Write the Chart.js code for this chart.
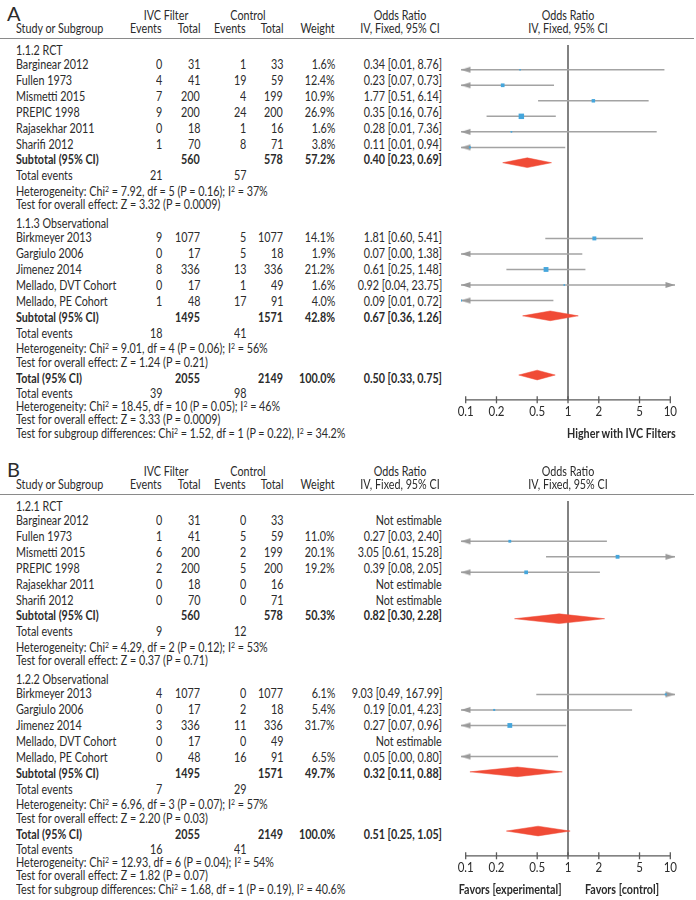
<!DOCTYPE html>
<html><head><meta charset="utf-8">
<script src="https://cdn.jsdelivr.net/npm/chart.js@4.4.0/dist/chart.umd.min.js"></script>
<style>
html,body{margin:0;padding:0;background:#fff;}
#page{position:relative;width:696px;height:900px;overflow:hidden;font-family:Lato,"Liberation Sans",sans-serif;font-size:12.5px;color:#2b2b2b;}
.t{position:absolute;white-space:nowrap;line-height:14px;height:14px;}
.b{font-weight:bold;}
.big{font-size:20px;line-height:20px;height:20px;}
sup{font-size:8px;vertical-align:0;position:relative;top:-4px;line-height:0;}
.hline{position:absolute;height:0;border-top:1.5px solid #8a8a8a;}
canvas{position:absolute;}
</style></head>
<body><div id="page"></div>
<script>
// ---------------- DATA ----------------
const panelLabels = ['A', 'B'];
const groupNames = [['1.1.2 RCT', '1.1.3 Observational'], ['1.2.1 RCT', '1.2.2 Observational']];
const studies = ['Barginear 2012', 'Fullen 1973', 'Mismetti 2015', 'PREPIC 1998', 'Rajasekhar 2011', 'Sharifi 2012',
  'Birkmeyer 2013', 'Gargiulo 2006', 'Jimenez 2014', 'Mellado, DVT Cohort', 'Mellado, PE Cohort'];
const studyGroup = [0, 0, 0, 0, 0, 0, 1, 1, 1, 1, 1];
const totalsFilter = [31, 41, 200, 200, 18, 70, 1077, 17, 336, 17, 48];
const totalsCtrl = [33, 59, 199, 200, 16, 71, 1077, 18, 336, 49, 91];
const eventsFilter = [[0, 4, 7, 9, 0, 1, 9, 0, 8, 0, 1], [0, 1, 6, 2, 0, 0, 4, 0, 3, 0, 0]];
const eventsCtrl = [[1, 19, 4, 24, 1, 8, 5, 5, 13, 1, 17], [0, 5, 2, 5, 0, 0, 0, 2, 11, 0, 16]];
const weights = [[1.6, 12.4, 10.9, 26.9, 1.6, 3.8, 14.1, 1.9, 21.2, 1.6, 4.0],
  [null, 11.0, 20.1, 19.2, null, null, 6.1, 5.4, 31.7, null, 6.5]];
const oddsRatio = [[0.34, 0.23, 1.77, 0.35, 0.28, 0.11, 1.81, 0.07, 0.61, 0.92, 0.09],
  [null, 0.27, 3.05, 0.39, null, null, 9.03, 0.19, 0.27, null, 0.05]];
const ciLow = [[0.01, 0.07, 0.51, 0.16, 0.01, 0.01, 0.60, 0.00, 0.25, 0.04, 0.01],
  [null, 0.03, 0.61, 0.08, null, null, 0.49, 0.01, 0.07, null, 0.00]];
const ciHigh = [[8.76, 0.73, 6.14, 0.76, 7.36, 0.94, 5.41, 1.38, 1.48, 23.75, 0.72],
  [null, 2.40, 15.28, 2.05, null, null, 167.99, 4.23, 0.96, null, 0.80]];

const subTotalFilter = [560, 1495];
const subTotalCtrl = [578, 1571];
const subWeight = [[57.2, 42.8], [50.3, 49.7]];
const subOR = [[0.40, 0.67], [0.82, 0.32]];
const subLow = [[0.23, 0.36], [0.30, 0.11]];
const subHigh = [[0.69, 1.26], [2.28, 0.88]];
const subEventsFilter = [[21, 18], [9, 7]];
const subEventsCtrl = [[57, 41], [12, 29]];
const subChi = [[7.92, 9.01], [4.29, 6.96]];
const subDf = [[5, 4], [2, 3]];
const subP = [['0.16', '0.06'], ['0.12', '0.07']];
const subI2 = [[37, 56], [53, 57]];
const subZ = [[3.32, 1.24], [0.37, 2.20]];
const subZP = [['0.0009', '0.21'], ['0.71', '0.03']];

const totalFilter = [2055, 2055];
const totalCtrl = [2149, 2149];
const totalOR = [0.50, 0.51];
const totalLow = [0.33, 0.25];
const totalHigh = [0.75, 1.05];
const totalEventsFilter = [39, 16];
const totalEventsCtrl = [98, 41];
const totalChi = [18.45, 12.93];
const totalDf = [10, 6];
const totalP = ['0.05', '0.04'];
const totalI2 = [46, 54];
const totalZ = [3.33, 1.82];
const totalZP = ['0.0009', '0.07'];
const diffChi = [1.52, 1.68];
const diffDf = [1, 1];
const diffP = ['0.22', '0.19'];
const diffI2 = ['34.2', '40.6'];

const axisTicks = [0.1, 0.2, 0.5, 1, 2, 5, 10];
const axisTickLabels = ['0.1', '0.2', '0.5', '1', '2', '5', '10'];
const footLeft = ['', 'Favors [experimental]'];
const footRight = ['Higher with IVC Filters', 'Favors [control]'];

// ---------------- LAYOUT / STYLE ----------------
const X_MIN = 0.09, X_MAX = 1 / 0.09;
const LINE_Y = [39, 495];
const SQ_K = [1.05, 0.85];
const SX = 0.86;
const COL = {name: 16, evF: 162, totF: 200, evC: 246, totC: 283, w: 335, or: 442, orHead: 400, plotHead: 568};
const CANVAS_LEFT = 440, CANVAS_W = 256, PAD = 21;
const C_LINE = '#a3a3a3', C_SQ = '#45a6dc', C_DIA = '#f04b36', C_AX = '#5a5a5a';
const page = document.getElementById('page');

function put(html, x, y, align, cls) {
  const d = document.createElement('div');
  d.className = 't ' + (cls || '');
  d.innerHTML = html;
  d.style.top = (y - 7) + 'px';
  if (align === 'r') { d.style.right = (696 - x) + 'px'; d.style.transformOrigin = 'right center'; }
  else if (align === 'c') { d.style.left = (x - 150) + 'px'; d.style.width = '300px'; d.style.textAlign = 'center'; d.style.transformOrigin = 'center center'; }
  else { d.style.left = x + 'px'; d.style.transformOrigin = 'left center'; }
  if (!(cls && cls.indexOf('big') >= 0)) d.style.transform = `scaleX(${SX})`;
  page.appendChild(d);
  return d;
}
const f2 = v => v.toFixed(2);
const orText = (o, l, h) => o == null ? 'Not estimable' : `${f2(o)} [${f2(l)}, ${f2(h)}]`;
const sup2 = '<sup>2</sup>';

function buildRows(p) {
  const r = {groups: [], studies: [], sub: [], te: [], het: [], test: []};
  let y = LINE_Y[p] + 11.5;
  for (let g = 0; g < 2; g++) {
    if (g > 0) y += 19.5;
    r.groups[g] = y;
    let first = true;
    studies.forEach((s, i) => {
      if (studyGroup[i] !== g) return;
      y += first ? 14 : 16; first = false;
      r.studies[i] = y;
    });
    y += 15.8; r.sub[g] = y;
    y += 16; r.te[g] = y;
    y += 15.2; r.het[g] = y;
    y += 13.3; r.test[g] = y;
  }
  y += 16.5; r.total = y;
  y += 15; r.tte = y;
  y += 13; r.thet = y;
  y += 13.3; r.ttest = y;
  y += 13.3; r.diff = y;
  return r;
}

function arrowImage(dir) {
  const c = document.createElement('canvas');
  c.width = 20; c.height = 8;
  const x = c.getContext('2d');
  x.fillStyle = '#9a9a9a';
  x.beginPath();
  if (dir < 0) { x.moveTo(10, 4); x.lineTo(19.5, 1); x.lineTo(19.5, 7); }
  else { x.moveTo(10, 4); x.lineTo(0.5, 1); x.lineTo(0.5, 7); }
  x.closePath(); x.fill();
  return c;
}
const arrowL = arrowImage(-1), arrowR = arrowImage(1);

const tickLabelPlugin = {
  id: 'tickLabels',
  afterDraw(chart) {
    const o = chart.options.plugins.tickLabels;
    const ctx = chart.ctx, xs = chart.scales.x, ys = chart.scales.y;
    ctx.save();
    ctx.font = '12.5px Lato, "Liberation Sans", sans-serif';
    ctx.fillStyle = '#2b2b2b';
    ctx.textAlign = 'center';
    ctx.textBaseline = 'middle';
    axisTicks.forEach((v, i) => {
      const px = xs.getPixelForValue(v), py = ys.getPixelForValue(o.y);
      ctx.save(); ctx.translate(px, py); ctx.scale(0.92, 1);
      ctx.fillText(axisTickLabels[i], 0, 0);
      ctx.restore();
    });
    ctx.restore();
  }
};

for (let p = 0; p < 2; p++) {
  const L = LINE_Y[p];
  const r = buildRows(p);
  // headers
  put(panelLabels[p], 7, L - 29, 'l', 'big');
  put('IVC Filter', 166, L - 23, 'c');
  put('Control', 248, L - 23, 'c');
  put('Odds Ratio', COL.orHead, L - 23, 'c');
  put('Odds Ratio', COL.plotHead, L - 23, 'c');
  put('Study or Subgroup', COL.name, L - 10);
  put('Events', COL.evF, L - 10, 'r');
  put('Total', COL.totF, L - 10, 'r');
  put('Events', COL.evC, L - 10, 'r');
  put('Total', COL.totC, L - 10, 'r');
  put('Weight', COL.w, L - 10, 'r');
  put('IV, Fixed, 95% CI', COL.orHead, L - 10, 'c');
  put('IV, Fixed, 95% CI', COL.plotHead, L - 10, 'c');
  const hl = document.createElement('div');
  hl.className = 'hline';
  hl.style.left = '0px'; hl.style.width = '694px'; hl.style.top = (L - 0.75) + 'px';
  page.appendChild(hl);

  // rows
  for (let g = 0; g < 2; g++) {
    put(groupNames[p][g], COL.name, r.groups[g]);
    studies.forEach((s, i) => {
      if (studyGroup[i] !== g) return;
      const y = r.studies[i];
      put(s, COL.name, y);
      put(String(eventsFilter[p][i]), COL.evF, y, 'r');
      put(String(totalsFilter[i]), COL.totF, y, 'r');
      put(String(eventsCtrl[p][i]), COL.evC, y, 'r');
      put(String(totalsCtrl[i]), COL.totC, y, 'r');
      if (weights[p][i] != null) put(weights[p][i].toFixed(1) + '%', COL.w, y, 'r');
      put(orText(oddsRatio[p][i], ciLow[p][i], ciHigh[p][i]), COL.or, y, 'r');
    });
    put('Subtotal (95% CI)', COL.name, r.sub[g], 'l', 'b');
    put(String(subTotalFilter[g]), COL.totF, r.sub[g], 'r', 'b');
    put(String(subTotalCtrl[g]), COL.totC, r.sub[g], 'r', 'b');
    put(subWeight[p][g].toFixed(1) + '%', COL.w, r.sub[g], 'r', 'b');
    put(orText(subOR[p][g], subLow[p][g], subHigh[p][g]), COL.or, r.sub[g], 'r', 'b');
    put('Total events', COL.name, r.te[g]);
    put(String(subEventsFilter[p][g]), COL.evF, r.te[g], 'r');
    put(String(subEventsCtrl[p][g]), COL.evC, r.te[g], 'r');
    put(`Heterogeneity: Chi${sup2} = ${f2(subChi[p][g])}, df = ${subDf[p][g]} (P = ${subP[p][g]}); I${sup2} = ${subI2[p][g]}%`, COL.name, r.het[g]);
    put(`Test for overall effect: Z = ${f2(subZ[p][g])} (P = ${subZP[p][g]})`, COL.name, r.test[g]);
  }
  put('Total (95% CI)', COL.name, r.total, 'l', 'b');
  put(String(totalFilter[p]), COL.totF, r.total, 'r', 'b');
  put(String(totalCtrl[p]), COL.totC, r.total, 'r', 'b');
  put('100.0%', COL.w, r.total, 'r', 'b');
  put(orText(totalOR[p], totalLow[p], totalHigh[p]), COL.or, r.total, 'r', 'b');
  put('Total events', COL.name, r.tte);
  put(String(totalEventsFilter[p]), COL.evF, r.tte, 'r');
  put(String(totalEventsCtrl[p]), COL.evC, r.tte, 'r');
  put(`Heterogeneity: Chi${sup2} = ${f2(totalChi[p])}, df = ${totalDf[p]} (P = ${totalP[p]}); I${sup2} = ${totalI2[p]}%`, COL.name, r.thet);
  put(`Test for overall effect: Z = ${f2(totalZ[p])} (P = ${totalZP[p]})`, COL.name, r.ttest);
  put(`Test for subgroup differences: Chi${sup2} = ${f2(diffChi[p])}, df = ${diffDf[p]} (P = ${diffP[p]}), I${sup2} = ${diffI2[p]}%`, COL.name, r.diff);

  // chart
  const axisY = r.thet - 2.5;
  const top = L;
  const H = Math.round(axisY + 40 - top);
  const cv = document.createElement('canvas');
  cv.width = CANVAS_W; cv.height = H;
  cv.style.left = CANVAS_LEFT + 'px'; cv.style.top = top + 'px';
  cv.style.width = CANVAS_W + 'px'; cv.style.height = H + 'px';
  page.appendChild(cv);

  if (footLeft[p]) put(footLeft[p], 562, axisY + 29, 'r', 'b');
  put(footRight[p], p === 0 ? 567 : 585, axisY + 29, 'l', 'b');

  const ay = axisY - top;
  const clipX = v => Math.min(X_MAX, Math.max(X_MIN, v));
  const datasets = [];
  // squares
  const sq = [], sqR = [];
  studies.forEach((s, i) => {
    const o = oddsRatio[p][i];
    if (o == null) return;
    sq.push({x: o, y: r.studies[i] - top});
    const side = Math.max(1.6, SQ_K[p] * Math.sqrt(weights[p][i]));
    sqR.push(side / Math.SQRT2);
  });
  datasets.push({type: 'scatter', data: sq, pointStyle: 'rect', pointRadius: sqR, backgroundColor: C_SQ, borderWidth: 0});
  // arrows
  const la = [], ra = [];
  studies.forEach((s, i) => {
    if (oddsRatio[p][i] == null) return;
    const y = r.studies[i] - top;
    if (ciLow[p][i] < X_MIN) la.push({x: X_MIN, y});
    if (ciHigh[p][i] > X_MAX) ra.push({x: X_MAX, y});
  });
  datasets.push({type: 'scatter', data: la, pointStyle: arrowL, pointRadius: 5, clip: false});
  datasets.push({type: 'scatter', data: ra, pointStyle: arrowR, pointRadius: 5, clip: false});
  // CI lines
  studies.forEach((s, i) => {
    if (oddsRatio[p][i] == null) return;
    const y = r.studies[i] - top;
    datasets.push({type: 'line', data: [{x: clipX(ciLow[p][i]), y}, {x: clipX(ciHigh[p][i]), y}],
      borderColor: C_LINE, borderWidth: 1.5, pointRadius: 0, fill: false});
  });
  // diamonds
  const diamonds = [[subOR[p][0], subLow[p][0], subHigh[p][0], r.sub[0]],
    [subOR[p][1], subLow[p][1], subHigh[p][1], r.sub[1]],
    [totalOR[p], totalLow[p], totalHigh[p], r.total]];
  diamonds.forEach(([o, l, h, yy]) => {
    const y = yy - top;
    datasets.push({type: 'line', data: [{x: l, y}, {x: o, y: y - 5}, {x: h, y}, {x: o, y: y + 5}, {x: l, y}],
      borderColor: C_DIA, backgroundColor: C_DIA, borderWidth: 0.5, pointRadius: 0, fill: 'shape'});
  });
  // axis ticks + axis line + reference line
  datasets.push({type: 'scatter', data: axisTicks.map(v => ({x: v, y: ay})), pointStyle: 'line', rotation: 90,
    pointRadius: 3.5, borderColor: C_AX, borderWidth: 1.3});
  datasets.push({type: 'line', data: [{x: 0.1, y: ay}, {x: 10, y: ay}], borderColor: C_AX, borderWidth: 1.3, pointRadius: 0});
  datasets.push({type: 'line', data: [{x: 1, y: 0}, {x: 1, y: ay}], borderColor: C_AX, borderWidth: 1.5, pointRadius: 0});

  new Chart(cv, {
    type: 'line',
    data: {datasets},
    plugins: [tickLabelPlugin],
    options: {
      responsive: false, animation: false, events: [],
      layout: {padding: {left: PAD, right: PAD, top: 0, bottom: 0}},
      scales: {
        x: {type: 'logarithmic', min: X_MIN, max: X_MAX, display: false, bounds: 'data'},
        y: {type: 'linear', min: 0, max: H, reverse: true, display: false}
      },
      plugins: {legend: {display: false}, tooltip: {enabled: false}, tickLabels: {y: ay + 12.7}}
    }
  });
}
</script>
</body></html>
